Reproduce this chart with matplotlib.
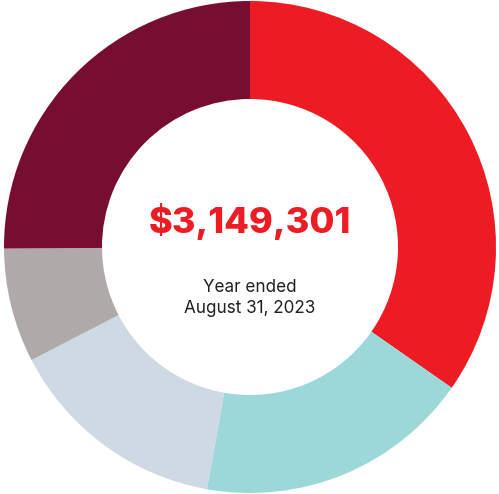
import matplotlib
matplotlib.use("Agg")
import matplotlib.pyplot as plt

# slice shares (percent), clockwise from 12 o'clock
labels = ["Red", "Teal", "Light blue", "Gray", "Maroon"]
shares = [34.7, 18.1, 14.6, 7.5, 25.1]
colors = ["#ED1C24", "#9DD8D9", "#CFD9E3", "#AFAAA9", "#780D32"]

total_text = "$3,149,301"
sub_text = "Year ended\nAugust 31, 2023"

fig = plt.figure(figsize=(4.99, 4.94), dpi=100)
ax = fig.add_axes([0, 0, 1, 1])
ax.pie(shares, colors=colors, startangle=90, counterclock=False,
       radius=246, center=(0, 0),
       wedgeprops=dict(width=98, linewidth=0))
ax.set_xlim(-250, 249)
ax.set_ylim(-247, 247)
ax.set_aspect("auto")
ax.axis("off")

ax.text(0, 25, total_text, ha="center", va="center", color="#ED1C24",
        fontsize=26, fontweight="heavy", family=["Inter", "DejaVu Sans"])
ax.text(0, -51, sub_text, ha="center", va="center", color="#231F20",
        fontsize=12.3, linespacing=1.25, family=["Inter", "DejaVu Sans"])

fig.savefig("out.png", dpi=100)
